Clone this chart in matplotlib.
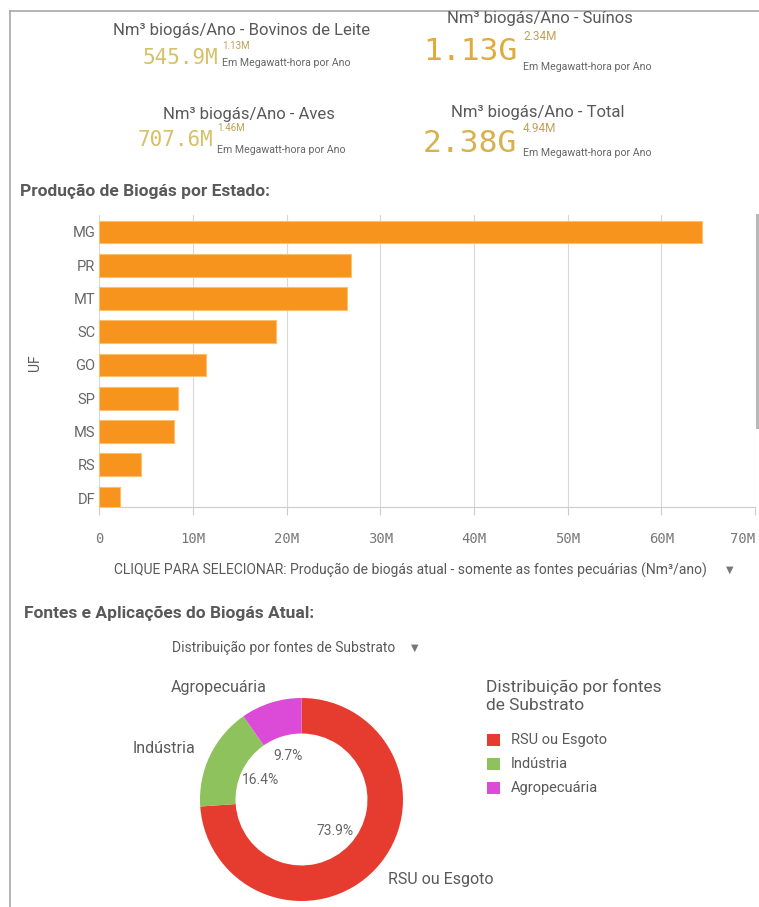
import numpy as np
import matplotlib.pyplot as plt
from matplotlib.patches import Rectangle
from matplotlib.lines import Line2D
from matplotlib.ticker import FuncFormatter

plt.rcParams['font.family'] = ['Roboto', 'DejaVu Sans']

W, H = 759, 907


def fx(x):
    return x / W


def fy(y):
    return 1 - y / H


# KPIs do topo
kpi_titulos = ['Nm³ biogás/Ano - Bovinos de Leite', 'Nm³ biogás/Ano - Suínos',
               'Nm³ biogás/Ano - Aves', 'Nm³ biogás/Ano - Total']
kpi_valores = ['545.9M', '1.13G', '707.6M', '2.38G']
kpi_mwh = ['1.13M', '2.34M', '1.46M', '4.94M']

# producao por estado (Nm3/ano)
estados = ['MG', 'PR', 'MT', 'SC', 'GO', 'SP', 'MS', 'RS', 'DF']
producao = [64.3e6, 26.9e6, 26.4e6, 18.9e6, 11.4e6, 8.4e6, 8.0e6, 4.5e6, 2.2e6]
x_ticks = [0, 10e6, 20e6, 30e6, 40e6, 50e6, 60e6, 70e6]

# fontes de substrato
fontes = ['RSU ou Esgoto', 'Indústria', 'Agropecuária']
fontes_pct = [73.9, 16.4, 9.7]
cores_fontes = ['#e63c2f', '#8dc25c', '#dc4ad8']

cinza = '#595959'

fig = plt.figure(figsize=(W / 100, H / 100), dpi=100)

# moldura (topo e esquerda)
fig.add_artist(Line2D([fx(10), 1], [fy(11), fy(11)], color='#a8a8a8', lw=1.2))
fig.add_artist(Line2D([fx(10), fx(10)], [fy(11), 0], color='#a8a8a8', lw=1.2))

# --- KPIs ---
# (x titulo, y titulo, x valor, y valor, tamanho, cor, x texto pequeno, y sup, y sub, tam sup)
layout = [
    (242, 31, 142, 58, 15, '#d6c06a', 222, 46, 63, 7),
    (540, 18, 423, 51, 22.5, '#e0ab3a', 523, 37, 67, 8.5),
    (249, 114, 138, 140, 15, '#d7c065', 217, 128, 150, 7),
    (538, 112, 423, 144, 22.5, '#d8b04c', 523, 129, 153, 8.5),
]
for i, (tx, ty, vx, vy, fs, cor, sx, sup_y, sub_y, sfs) in enumerate(layout):
    fig.text(fx(tx), fy(ty), kpi_titulos[i], ha='center', va='center',
             fontsize=12, color=cinza)
    fig.text(fx(vx), fy(vy), kpi_valores[i], ha='left', va='center',
             fontsize=fs, color=cor, family='DejaVu Sans Mono')
    fig.text(fx(sx), fy(sup_y), kpi_mwh[i], ha='left', va='center',
             fontsize=sfs, color='#c0a055')
    fig.text(fx(sx), fy(sub_y), 'Em Megawatt-hora por Ano', ha='left', va='center',
             fontsize=7.6, color='#666666')

# --- barras por estado ---
fig.text(fx(20), fy(191), 'Produção de Biogás por Estado:', ha='left', va='center',
         fontsize=12.5, fontweight='bold', color=cinza)

ax = fig.add_axes([fx(99.3), fy(507), (755 - 99.3) / W, (507 - 215) / H])
y = np.arange(len(estados))
ax.barh(y, producao, height=0.68, color='#f6941d', edgecolor='#fbbf6e',
        linewidth=0.8, zorder=3)
ax.set_ylim(8.27, -0.51)
ax.set_xlim(0, 70e6)
ax.set_xticks(x_ticks)
ax.xaxis.set_major_formatter(FuncFormatter(lambda v, p: '0' if v == 0 else f'{v / 1e6:.0f}M'))
ax.set_yticks(y, estados)
ax.grid(axis='x', color='#d9d9d9', lw=0.8, zorder=0)
for s in ['top', 'right', 'left']:
    ax.spines[s].set_visible(False)
ax.spines['bottom'].set_color('#cccccc')
ax.tick_params(axis='x', length=6, color='#cccccc', pad=12, labelsize=10,
               labelcolor='#777777')
ax.tick_params(axis='y', length=0, pad=3, labelsize=10.5, labelcolor='#666666')
xlabs = ax.get_xticklabels()
for lab in xlabs:
    lab.set_family('DejaVu Sans Mono')
xlabs[-1].set_horizontalalignment('right')

fig.text(fx(35), fy(363), 'UF', rotation=90, ha='center', va='center',
         fontsize=10, color=cinza)
fig.text(fx(410), fy(570),
         'CLIQUE PARA SELECIONAR: Produção de biogás atual - somente as fontes pecuárias (Nm³/ano)',
         ha='center', va='center', fontsize=10, color=cinza)
fig.text(fx(730), fy(570), '▼', ha='center', va='center', fontsize=7,
         color='#777777', family='DejaVu Sans')

# barra de rolagem
fig.add_artist(Line2D([fx(757), fx(757)], [fy(215), fy(427)], color='#b8b8b8', lw=2.2))

# --- donut ---
fig.text(fx(24), fy(613), 'Fontes e Aplicações do Biogás Atual:', ha='left', va='center',
         fontsize=12.5, fontweight='bold', color=cinza)
fig.text(fx(284), fy(648), 'Distribuição por fontes de Substrato', ha='center', va='center',
         fontsize=10, color=cinza)
fig.text(fx(415), fy(648), '▼', ha='center', va='center', fontsize=7,
         color='#777777', family='DejaVu Sans')

cx, cy, r = 301.5, 799.5, 101.5
lim = 1.35
h = lim * r
ax2 = fig.add_axes([fx(cx - h), fy(cy + h), 2 * h / W, 2 * h / H])
wedges, textos, pcts = ax2.pie(
    fontes_pct, labels=fontes, colors=cores_fontes, startangle=90, counterclock=False,
    autopct=lambda p: f'{p:.1f}%', pctdistance=0.45, labeldistance=1.16,
    wedgeprops=dict(width=0.35, linewidth=0),
    textprops=dict(fontsize=11.5, color=cinza))
for t in pcts:
    t.set_fontsize(10)
    t.set_color('#666666')
ax2.set_xlim(-lim, lim)
ax2.set_ylim(-lim, lim)

# legenda
fig.text(fx(486), fy(696), 'Distribuição por fontes\nde Substrato', ha='left', va='center',
         fontsize=12.5, color=cinza, linespacing=1.25)
leg_y = [740, 764, 788]
for nome, cor, ly in zip(fontes, cores_fontes, leg_y):
    fig.add_artist(Rectangle((fx(487), fy(ly + 6)), 13 / W, 12 / H, transform=fig.transFigure,
                             facecolor=cor, edgecolor='none'))
    fig.text(fx(511), fy(ly), nome, ha='left', va='center', fontsize=10.5, color=cinza)

fig.savefig('out.png', dpi=100)
